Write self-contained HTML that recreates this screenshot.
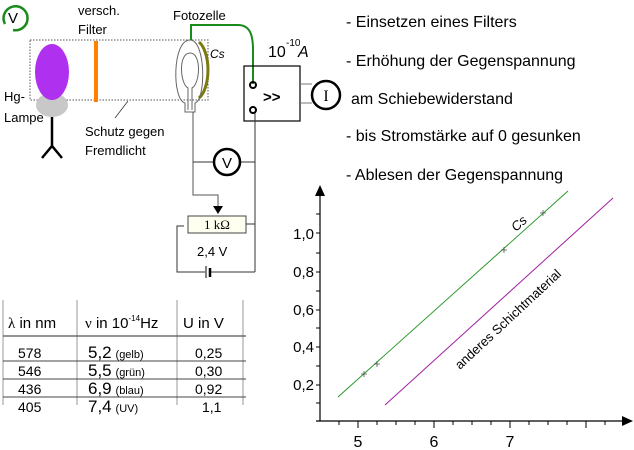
<!DOCTYPE html>
<html><head><meta charset="utf-8"><style>
html,body{margin:0;padding:0;background:#fff;}
svg{display:block;font-family:"Liberation Sans","DejaVu Sans",sans-serif;}
</style></head><body>
<svg width="634" height="450" viewBox="0 0 634 450" xmlns="http://www.w3.org/2000/svg">
<rect width="634" height="450" fill="#fff"/>
<path d="M5,24 A12,12 0 1 1 13,30" fill="none" stroke="#1a8a1a" stroke-width="2.5"/>
<text x="13" y="23" font-size="15" text-anchor="middle" fill="#000">V</text>
<text x="78" y="15" font-size="13">versch.</text>
<text x="78" y="34" font-size="13">Filter</text>
<rect x="30" y="40" width="178" height="60" fill="none" stroke="#555" stroke-dasharray="1.5,1.5" stroke-width="1"/>
<ellipse cx="52" cy="105" rx="16" ry="12" fill="#c8c8c8"/>
<ellipse cx="52" cy="72" rx="17" ry="28" fill="#b030f0"/>
<path d="M52,117 V148 M42,158 L52,146 L62,158" fill="none" stroke="#000" stroke-width="2.5"/>
<text x="4" y="101" font-size="13">Hg-</text>
<text x="4" y="122" font-size="13">Lampe</text>
<rect x="94" y="41" width="4" height="61" fill="#ff8000"/>
<path d="M128,101 L115,118" stroke="#333" stroke-width="0.8"/>
<text x="85" y="136" font-size="13">Schutz gegen</text>
<text x="85" y="155" font-size="13">Fremdlicht</text>
<path d="M199,42 A14,30 0 0 1 199,98" fill="none" stroke="#7a7a10" stroke-width="3"/>
<path d="M190,40 C172,40 172,100 185,103 L185,112 L195,112 L195,103 C206,100 206,40 190,40Z" fill="none" stroke="#666" stroke-width="1"/>
<path d="M190,53 C178,53 180,84 188,88 L188,110 M190,53 C202,53 200,84 192,88 L192,110" fill="none" stroke="#666" stroke-width="1"/>
<text x="210" y="58" font-size="12" font-style="italic">Cs</text>
<text x="173" y="20" font-size="13">Fotozelle</text>
<path d="M191,40 V25 L238,25 C250,25 253,35 253,50 L253,84" fill="none" stroke="#1a8a1a" stroke-width="2"/>
<text x="268" y="57" font-size="16">10</text>
<text x="286" y="46" font-size="10">-10</text>
<text x="298" y="57" font-size="16" font-style="italic">A</text>
<rect x="244" y="66" width="56" height="55" fill="none" stroke="#000" stroke-width="1.2"/>
<circle cx="253" cy="85" r="3" fill="none" stroke="#000" stroke-width="2"/>
<circle cx="253" cy="110" r="3" fill="none" stroke="#000" stroke-width="2"/>
<text x="263" y="102" font-size="15" font-weight="bold">&gt;&gt;</text>
<path d="M300,84 H312 M300,103 H312" stroke="#777"/>
<circle cx="326" cy="95" r="14" fill="#fff" stroke="#000" stroke-width="2.5"/>
<text x="326" y="101" font-size="16" text-anchor="middle" font-family="Liberation Serif,serif">I</text>
<path d="M193,112 V195 H218 V207" fill="none" stroke="#555" stroke-width="1"/>
<path d="M213,206 L223,206 L218,214Z" fill="#000"/>
<path d="M193,162 H213 M241,162 H255 M255,113 V272 M246,224 H255" fill="none" stroke="#333" stroke-width="1"/>
<circle cx="227" cy="162" r="13" fill="#fff" stroke="#000" stroke-width="2.5"/>
<text x="227" y="168" font-size="15" text-anchor="middle">V</text>
<rect x="188" y="216" width="58" height="17" fill="#fffff0" stroke="#444"/>
<text x="217" y="229" font-size="13" text-anchor="middle" font-family="Liberation Serif,serif">1 kΩ</text>
<path d="M184,226 H177 V272 H205 M211,272 H255" fill="none" stroke="#333" stroke-width="1"/>
<path d="M206,266 V278" stroke="#000" stroke-width="1"/>
<path d="M210,268 V277" stroke="#000" stroke-width="2.5"/>
<text x="197" y="256" font-size="13">2,4 V</text>
<g font-size="16" fill="#000">
<text x="346" y="27">- Einsetzen eines Filters</text>
<text x="346" y="66">- Erhöhung der Gegenspannung</text>
<text x="351" y="104">am Schiebewiderstand</text>
<text x="346" y="141">- bis Stromstärke auf 0 gesunken</text>
<text x="346" y="180">- Ablesen der Gegenspannung</text>
</g>
<path d="M3,300 V405 M77,300 V405 M177,300 V405 M243,300 V405" stroke="#999" stroke-width="1"/>
<path d="M3,336 H246" stroke="#555" stroke-width="1.2"/>
<path d="M3,361 H246 M3,379 H246 M3,397 H246" stroke="#444" stroke-width="1"/>
<g font-size="15">
<text x="8" y="328"><tspan font-family="Liberation Serif,serif">λ</tspan> in nm</text>
<text x="85" y="328"><tspan font-family="Liberation Serif,serif">ν</tspan> in 10<tspan font-size="8" dy="-7">-14</tspan><tspan dy="7">Hz</tspan></text>
<text x="183" y="328">U in V</text>
</g>
<g font-size="14">
<text x="18" y="358">578</text><text x="18" y="376">546</text><text x="18" y="394">436</text><text x="18" y="412">405</text>
<text x="88" y="358"><tspan font-size="17">5,2</tspan> <tspan font-size="11">(gelb)</tspan></text>
<text x="88" y="376"><tspan font-size="17">5,5</tspan> <tspan font-size="11">(grün)</tspan></text>
<text x="88" y="394"><tspan font-size="17">6,9</tspan> <tspan font-size="11">(blau)</tspan></text>
<text x="88" y="412"><tspan font-size="17">7,4</tspan> <tspan font-size="11">(UV)</tspan></text>
<text x="195" y="358">0,25</text><text x="195" y="376">0,30</text><text x="195" y="394">0,92</text><text x="202" y="412">1,1</text>
</g>
<path d="M320,421 V193 M316,421 H622" stroke="#000" stroke-width="1.2"/>
<path d="M315,196 L320,185 L325,196Z" fill="#000"/>
<path d="M622,416 L633,421 L622,426Z" fill="#000"/>
<g stroke="#000" stroke-width="1">
<path d="M320,403 h-4 M320,385 h-4 M320,366 h-4 M320,347 h-4 M320,328 h-4 M320,310 h-4 M320,291 h-4 M320,272 h-4 M320,253 h-4 M320,233 h-4 M320,214 h-4"/>
<path d="M339,421 v4 M358,421 v7 M377,421 v4 M396,421 v4 M415,421 v4 M434,421 v7 M453,421 v4 M472,421 v4 M491,421 v4 M510,421 v7 M529,421 v4 M548,421 v4 M567,421 v4 M586,421 v7 M605,421 v4"/>
</g>
<g font-size="15" text-anchor="end">
<text x="314" y="390">0,2</text><text x="314" y="352">0,4</text><text x="314" y="315">0,6</text><text x="314" y="277">0,8</text><text x="314" y="239">1,0</text>
</g>
<g font-size="16" text-anchor="middle">
<text x="358" y="447">5</text><text x="434" y="447">6</text><text x="510" y="447">7</text>
</g>
<path d="M338,397 L568,191" stroke="#2a9a2a" stroke-width="1"/>
<path d="M385,405 L613,198" stroke="#a020a0" stroke-width="1"/>
<g stroke="#555" stroke-width="0.8">
<path d="M361,374 h6 M364,371 v6 M374,364 h6 M377,361 v6 M501,250 h6 M504,247 v6 M540,213 h6 M543,210 v6"/>
</g>
<text x="0" y="0" font-size="13" font-style="italic" transform="translate(516,232) rotate(-42)">Cs</text>
<text x="0" y="0" font-size="13" transform="translate(460,370) rotate(-43)">anderes Schichtmaterial</text>
</svg>
</body></html>
